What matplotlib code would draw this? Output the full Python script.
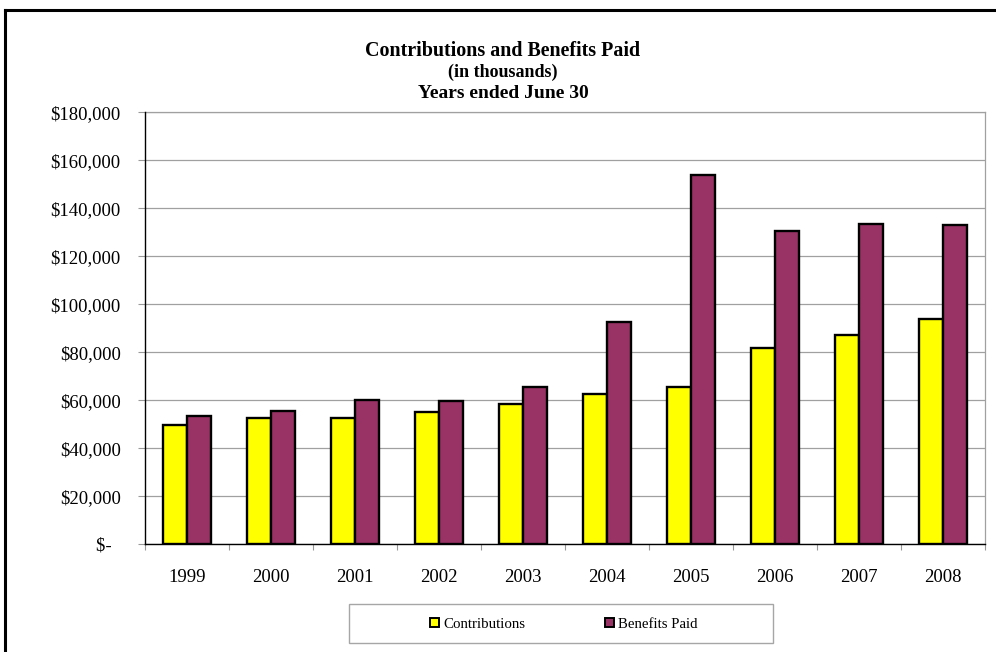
import matplotlib
matplotlib.use("Agg")
import matplotlib.pyplot as plt
from matplotlib.patches import Rectangle
from matplotlib.lines import Line2D
import numpy as np

years = ["1999", "2000", "2001", "2002", "2003", "2004", "2005", "2006", "2007", "2008"]
contributions = [49800, 52500, 52800, 55000, 58600, 62800, 65500, 81800, 87300, 93900]
benefits_paid = [53600, 55400, 60300, 59700, 65500, 92800, 154000, 130500, 133500, 133000]
yticks = [0, 20000, 40000, 60000, 80000, 100000, 120000, 140000, 160000, 180000]
ytick_labels = ["$-  "] + ["${:,.0f}".format(v) for v in yticks[1:]]

W, H = 996, 652
fig = plt.figure(figsize=(W / 100, H / 100), dpi=100)
serif = ["Liberation Serif", "DejaVu Serif"]

def px(x, y):
    return x / W, 1 - y / H

left, right, top, bottom = 145, 985, 112.3, 544.3
ax = fig.add_axes([left / W, 1 - bottom / H, (right - left) / W, (bottom - top) / H])

x = np.arange(len(years))
w = 24 / 84
ax.bar(x - w / 2, contributions, width=w, color="#FFFF00", edgecolor="black", linewidth=1.7, zorder=3, label="Contributions")
ax.bar(x + w / 2, benefits_paid, width=w, color="#993366", edgecolor="black", linewidth=1.7, zorder=3, label="Benefits Paid")

ax.set_xlim(-0.5, len(years) - 0.5)
ax.set_ylim(0, 180000)
ax.set_yticks(yticks)
ax.set_yticklabels(ytick_labels, fontfamily=serif, fontsize=13.5)
ax.set_xticks(x)
ax.set_xticklabels(years, fontfamily=serif, fontsize=13.5)
ax.set_xticks(np.arange(-0.5, len(years) + 0.5, 1), minor=True)
ax.tick_params(axis="x", which="major", length=0, pad=17.5)
ax.tick_params(axis="x", which="minor", length=4, color="#999999", width=0.8)
ax.tick_params(axis="y", which="major", length=5, color="#999999", width=0.8, pad=12.5)

ax.grid(axis="y", color="#a0a0a0", linewidth=0.9, zorder=0)
ax.set_axisbelow(True)
for s in ["top", "right"]:
    ax.spines[s].set_color("#a0a0a0")
    ax.spines[s].set_linewidth(0.9)
for s in ["left", "bottom"]:
    ax.spines[s].set_color("black")
    ax.spines[s].set_linewidth(1.0)
    ax.spines[s].set_zorder(4)

# titles
cx = 503 / W
fig.text(cx, px(0, 56)[1], "Contributions and Benefits Paid", ha="center", va="baseline",
         fontfamily=serif, fontweight="bold", fontsize=14.4)
fig.text(cx, px(0, 76.7)[1], "(in thousands)", ha="center", va="baseline",
         fontfamily=serif, fontweight="bold", fontsize=13)
fig.text(cx, px(0, 98.3)[1], "Years ended June 30", ha="center", va="baseline",
         fontfamily=serif, fontweight="bold", fontsize=14)

# outer border (left and top visible)
fig.add_artist(Line2D([5 / W, 5 / W], [0, 1 - 9.5 / H], color="black", linewidth=2.2, transform=fig.transFigure))
fig.add_artist(Line2D([5 / W, 1], [1 - 9.5 / H, 1 - 9.5 / H], color="black", linewidth=2.2, transform=fig.transFigure))

# legend frame
lx0, lx1, ly0, ly1 = 349, 773, 604, 643
fig.add_artist(Rectangle(px(lx0, ly1), (lx1 - lx0) / W, (ly1 - ly0) / H, transform=fig.transFigure,
                         facecolor="white", edgecolor="#a6a6a6", linewidth=1.0))
handles, labels = ax.get_legend_handles_labels()
leg = fig.legend(handles, labels, loc="center", bbox_to_anchor=px(564, 624.5), ncol=2,
                 frameon=False, prop={"family": serif, "size": 10.7},
                 handlelength=0.55, handleheight=0.55, handletextpad=0.3, columnspacing=5.4,
                 borderpad=0)
for h in leg.legend_handles:
    h.set_linewidth(1.4)

fig.savefig("out.png", dpi=100)
